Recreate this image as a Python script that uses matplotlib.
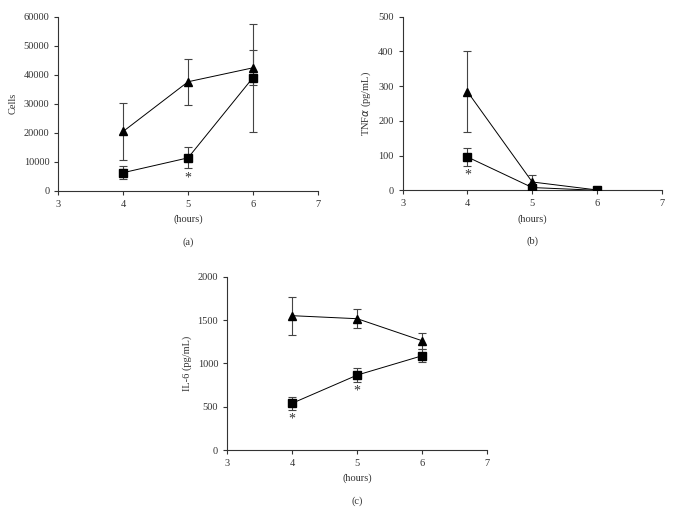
import matplotlib
matplotlib.use("Agg")
import matplotlib.pyplot as plt

plt.rcParams['font.family'] = ['Liberation Serif', 'DejaVu Serif']

hours = [4, 5, 6]
xticks = [3, 4, 5, 6, 7]

# Panel (a): Cells
cells_tri = [20500, 37600, 42400]
cells_tri_err = [9700, 7900, 6000]
cells_sq = [6300, 11400, 39000]
cells_sq_err = [2300, 3600, 18600]
cells_star = [False, True, False]

# Panel (b): TNFa
tnf_tri = [284, 24, 1]
tnf_tri_err = [117, 19, 0]
tnf_sq = [96, 8, 0]
tnf_sq_err = [25, 3, 0]
tnf_star = [True, False, False]

# Panel (c): IL-6
il6_tri = [1550, 1515, 1260]
il6_tri_err = [220, 108, 95]
il6_sq = [540, 865, 1088]
il6_sq_err = [75, 82, 75]
il6_star = [True, True, False]

fig = plt.figure(figsize=(6.74, 5.09), dpi=100)

axes_specs = [
    ([0.0865, 0.6248, 0.385, 0.3424], cells_tri, cells_tri_err, cells_sq, cells_sq_err, cells_star,
     'Cells', [0, 10000, 20000, 30000, 40000, 50000, 60000], (0, 60000), '(a)'),
    ([0.5975, 0.6261, 0.3843, 0.341], tnf_tri, tnf_tri_err, tnf_sq, tnf_sq_err, tnf_star,
     r'TNF$\alpha$ (pg/mL)', [0, 100, 200, 300, 400, 500], (0, 500), '(b)'),
    ([0.3372, 0.1159, 0.3858, 0.3405], il6_tri, il6_tri_err, il6_sq, il6_sq_err, il6_star,
     'IL-6 (pg/mL)', [0, 500, 1000, 1500, 2000], (0, 2000), '(c)'),
]

ec = '#444444'
for rect, tri, tri_err, sq, sq_err, star, ylabel, yt, ylim, tag in axes_specs:
    ax = fig.add_axes(rect)
    ax.errorbar(hours, tri, yerr=tri_err, fmt='-^', color='black', ecolor=ec,
                elinewidth=0.8, capsize=3, capthick=0.8, lw=0.7, markersize=6, zorder=3)
    ax.errorbar(hours, sq, yerr=sq_err, fmt='-s', color='black', ecolor=ec,
                elinewidth=0.8, capsize=3, capthick=0.8, lw=0.7, markersize=5.5, zorder=3)
    for h, v, e, s in zip(hours, sq, sq_err, star):
        if s:
            ax.annotate('*', xy=(h, v - e), xytext=(0, -2), textcoords='offset points',
                        ha='center', va='top', fontsize=10, color='#333333')
    ax.set_xlim(3, 7)
    ax.set_ylim(*ylim)
    ax.set_xticks(xticks)
    ax.set_yticks(yt)
    ax.spines['top'].set_visible(False)
    ax.spines['right'].set_visible(False)
    for sp in ('left', 'bottom'):
        ax.spines[sp].set_color('#333333')
        ax.spines[sp].set_linewidth(0.8)
    ax.tick_params(direction='out', length=3, width=0.8, colors='#333333', labelsize=7.5,
                   labelcolor='#333333')
    ax.set_xlabel('(hours)', fontsize=7.5, color='#333333', labelpad=4)
    ax.set_ylabel(ylabel, fontsize=7.5, color='#333333', labelpad=4)
    ax.text(0.5, -0.265, tag, transform=ax.transAxes, ha='center', va='top',
            fontsize=7.5, color='#333333')

fig.savefig('out.png', dpi=100)
